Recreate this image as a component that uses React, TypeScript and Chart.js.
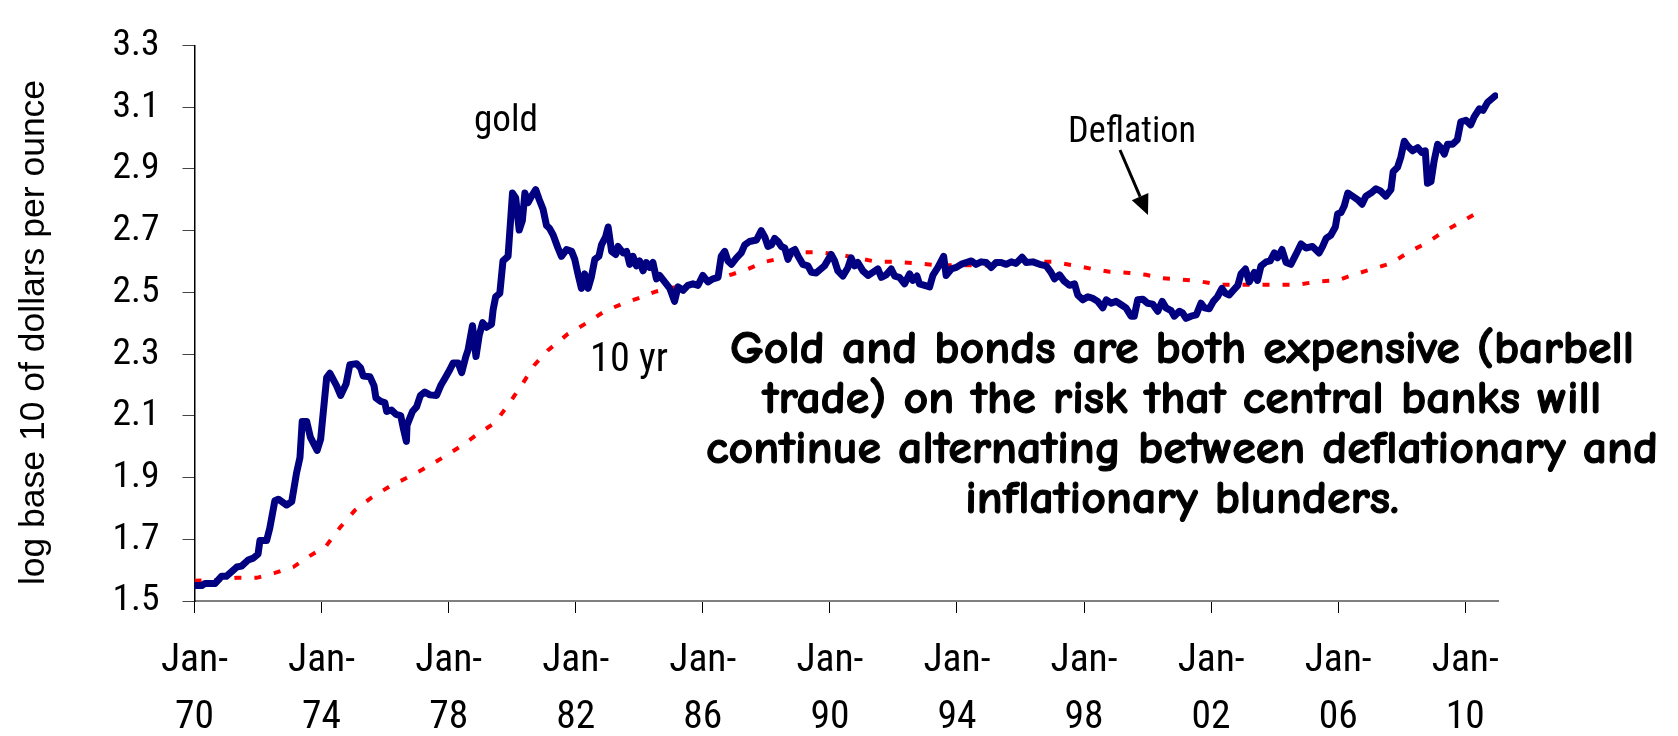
import React, { useEffect, useRef } from "react";
import { Chart, registerables } from "chart.js";

Chart.register(...registerables);

// ---- data ----
const goldYears = [
  1970.0, 1970.23, 1970.33, 1970.65, 1970.85, 1971.0, 1971.33, 1971.48, 1971.69, 1971.85,
  1972.0, 1972.06, 1972.27, 1972.37, 1972.53, 1972.64, 1972.9, 1973.06, 1973.21, 1973.32,
  1973.39, 1973.53, 1973.65, 1973.86, 1973.97, 1974.16, 1974.26, 1974.47, 1974.6, 1974.77,
  1974.89, 1975.1, 1975.23, 1975.31, 1975.52, 1975.65, 1975.71, 1975.86, 1975.99, 1976.05,
  1976.2, 1976.34, 1976.49, 1976.57, 1976.67, 1976.69, 1976.86, 1976.99, 1977.11, 1977.25,
  1977.41, 1977.62, 1977.75, 1977.88, 1978.04, 1978.14, 1978.3, 1978.41, 1978.54, 1978.61,
  1978.75, 1978.86, 1978.96, 1979.07, 1979.19, 1979.35, 1979.4, 1979.48, 1979.61, 1979.71,
  1979.87, 1980.01, 1980.11, 1980.22, 1980.32, 1980.4, 1980.5, 1980.61, 1980.74, 1980.85,
  1980.97, 1981.08, 1981.18, 1981.29, 1981.44, 1981.55, 1981.71, 1981.87, 1981.97, 1982.07,
  1982.18, 1982.28, 1982.39, 1982.49, 1982.6, 1982.73, 1982.81, 1982.94, 1983.02, 1983.13,
  1983.26, 1983.33, 1983.49, 1983.6, 1983.7, 1983.8, 1983.91, 1984.01, 1984.12, 1984.22,
  1984.33, 1984.43, 1984.54, 1984.64, 1984.8, 1984.96, 1985.11, 1985.22, 1985.38, 1985.53,
  1985.69, 1985.85, 1986.0, 1986.16, 1986.32, 1986.48, 1986.58, 1986.69, 1986.79, 1986.9,
  1987.06, 1987.21, 1987.32, 1987.47, 1987.69, 1987.84, 1987.95, 1988.05, 1988.16, 1988.26,
  1988.37, 1988.47, 1988.58, 1988.68, 1988.79, 1988.9, 1989.0, 1989.15, 1989.31, 1989.42,
  1989.57, 1989.68, 1989.83, 1990.04, 1990.15, 1990.25, 1990.41, 1990.57, 1990.67, 1990.78,
  1990.88, 1991.04, 1991.2, 1991.35, 1991.51, 1991.62, 1991.77, 1991.93, 1992.04, 1992.19,
  1992.35, 1992.51, 1992.61, 1992.74, 1992.82, 1992.98, 1993.14, 1993.24, 1993.4, 1993.58,
  1993.66, 1993.82, 1993.98, 1994.13, 1994.29, 1994.45, 1994.6, 1994.76, 1994.92, 1995.08,
  1995.23, 1995.39, 1995.55, 1995.71, 1995.86, 1996.05, 1996.18, 1996.39, 1996.6, 1996.81,
  1996.96, 1997.07, 1997.23, 1997.38, 1997.54, 1997.7, 1997.8, 1997.96, 1998.12, 1998.27,
  1998.43, 1998.59, 1998.7, 1998.85, 1999.01, 1999.17, 1999.32, 1999.48, 1999.58, 1999.69,
  1999.85, 2000.0, 2000.16, 2000.32, 2000.46, 2000.58, 2000.74, 2000.84, 2001.0, 2001.1,
  2001.21, 2001.37, 2001.53, 2001.68, 2001.79, 2001.94, 2002.07, 2002.2, 2002.34, 2002.45,
  2002.57, 2002.7, 2002.84, 2002.94, 2003.08, 2003.2, 2003.36, 2003.46, 2003.57, 2003.73,
  2003.86, 2003.99, 2004.09, 2004.23, 2004.36, 2004.51, 2004.67, 2004.83, 2004.99, 2005.19,
  2005.4, 2005.51, 2005.62, 2005.77, 2005.91, 2005.98, 2006.09, 2006.19, 2006.3, 2006.45,
  2006.61, 2006.75, 2006.87, 2007.03, 2007.19, 2007.34, 2007.5, 2007.66, 2007.73, 2007.87,
  2007.97, 2008.08, 2008.18, 2008.34, 2008.5, 2008.63, 2008.74, 2008.81, 2008.92, 2009.02,
  2009.13, 2009.23, 2009.34, 2009.44, 2009.6, 2009.75, 2009.86, 2010.02, 2010.17, 2010.28,
  2010.44, 2010.56, 2010.7, 2010.94,
];
const goldLog = [
  1.55, 1.55, 1.557, 1.557, 1.58, 1.58, 1.61, 1.613, 1.633, 1.639,
  1.652, 1.696, 1.696, 1.736, 1.825, 1.83, 1.811, 1.822, 1.914, 1.965,
  2.082, 2.082, 2.03, 1.988, 2.024, 2.224, 2.238, 2.198, 2.166, 2.203,
  2.266, 2.269, 2.255, 2.229, 2.227, 2.198, 2.158, 2.147, 2.143, 2.114,
  2.119, 2.105, 2.101, 2.061, 2.017, 2.07, 2.114, 2.129, 2.166, 2.177,
  2.168, 2.166, 2.198, 2.221, 2.25, 2.271, 2.271, 2.24, 2.292, 2.313,
  2.392, 2.292, 2.36, 2.402, 2.387, 2.397, 2.444, 2.486, 2.497, 2.602,
  2.617, 2.822, 2.806, 2.702, 2.733, 2.822, 2.791, 2.812, 2.833, 2.801,
  2.77, 2.717, 2.707, 2.686, 2.644, 2.617, 2.639, 2.633, 2.607, 2.56,
  2.513, 2.56, 2.513, 2.549, 2.607, 2.617, 2.654, 2.68, 2.712, 2.633,
  2.623, 2.649, 2.628, 2.633, 2.591, 2.617, 2.586, 2.602, 2.57, 2.597,
  2.581, 2.597, 2.544, 2.555, 2.534, 2.513, 2.471, 2.518, 2.507, 2.523,
  2.528, 2.523, 2.555, 2.534, 2.544, 2.549, 2.617, 2.633, 2.602, 2.591,
  2.612, 2.628, 2.654, 2.665, 2.67, 2.7, 2.68, 2.649, 2.654, 2.675,
  2.665, 2.649, 2.644, 2.607, 2.633, 2.639, 2.617, 2.591, 2.586, 2.565,
  2.563, 2.573, 2.586, 2.623, 2.602, 2.57, 2.553, 2.581, 2.612, 2.586,
  2.597, 2.57, 2.555, 2.565, 2.576, 2.549, 2.557, 2.576, 2.553, 2.549,
  2.528, 2.56, 2.539, 2.553, 2.528, 2.523, 2.518, 2.555, 2.581, 2.617,
  2.555, 2.576, 2.581, 2.591, 2.597, 2.602, 2.591, 2.599, 2.597, 2.581,
  2.597, 2.597, 2.591, 2.599, 2.594, 2.614, 2.597, 2.599, 2.591, 2.586,
  2.565, 2.544, 2.557, 2.536, 2.523, 2.528, 2.492, 2.476, 2.486, 2.481,
  2.471, 2.45, 2.476, 2.465, 2.471, 2.46, 2.45, 2.423, 2.423, 2.476,
  2.478, 2.465, 2.462, 2.439, 2.471, 2.45, 2.441, 2.423, 2.439, 2.434,
  2.416, 2.423, 2.427, 2.465, 2.45, 2.447, 2.471, 2.486, 2.513, 2.497,
  2.492, 2.507, 2.523, 2.56, 2.576, 2.534, 2.565, 2.539, 2.586, 2.599,
  2.602, 2.628, 2.612, 2.639, 2.597, 2.591, 2.623, 2.657, 2.644, 2.649,
  2.628, 2.649, 2.675, 2.686, 2.712, 2.754, 2.759, 2.78, 2.822, 2.812,
  2.801, 2.786, 2.812, 2.822, 2.836, 2.828, 2.812, 2.833, 2.891, 2.906,
  2.938, 2.99, 2.975, 2.959, 2.969, 2.954, 2.959, 2.854, 2.859, 2.927,
  2.98, 2.969, 2.948, 2.98, 2.98, 2.995, 3.053, 3.058, 3.043, 3.069,
  3.095, 3.09, 3.116, 3.137,
];
const bondYears = [
  1970.0, 1970.7, 1971.33, 1971.96, 1972.53, 1973.11, 1973.58, 1974.14, 1974.58, 1975.05,
  1975.57, 1976.15, 1976.78, 1977.3, 1977.88, 1978.4, 1978.93, 1979.45, 1979.87, 1980.3,
  1980.71, 1981.13, 1981.76, 1982.36, 1982.91, 1983.44, 1983.96, 1984.49, 1985.04, 1985.67,
  1986.24, 1986.9, 1987.42, 1987.95, 1988.52, 1989.1, 1989.7, 1990.36, 1990.99, 1991.48,
  1992.11, 1992.82, 1993.37, 1993.99, 1994.62, 1995.25, 1995.76, 1996.39, 1997.02, 1997.64,
  1998.27, 1998.8, 1999.43, 1999.95, 2000.48, 2001.05, 2001.63, 2002.26, 2002.89, 2003.49,
  2004.12, 2004.75, 2005.38, 2005.98, 2006.5, 2007.08, 2007.66, 2008.26, 2008.81, 2009.26,
  2009.91, 2010.52,
];
const bondLog = [
  1.566, 1.568, 1.575, 1.575, 1.591, 1.61, 1.643, 1.678, 1.738, 1.794,
  1.835, 1.872, 1.904, 1.933, 1.969, 2.003, 2.042, 2.077, 2.135, 2.2,
  2.266, 2.313, 2.366, 2.402, 2.439, 2.462, 2.481, 2.502, 2.515, 2.526,
  2.539, 2.558, 2.576, 2.599, 2.612, 2.63, 2.63, 2.621, 2.609, 2.599,
  2.599, 2.594, 2.588, 2.588, 2.588, 2.588, 2.599, 2.599, 2.599, 2.588,
  2.576, 2.567, 2.563, 2.557, 2.546, 2.542, 2.536, 2.525, 2.525, 2.525,
  2.525, 2.525, 2.536, 2.539, 2.558, 2.576, 2.594, 2.633, 2.662, 2.693,
  2.731, 2.767,
];
const xTickYears = [1970, 1974, 1978, 1982, 1986, 1990, 1994, 1998, 2002, 2006, 2010];
const xTickLabels = ["70", "74", "78", "82", "86", "90", "94", "98", "02", "06", "10"];
const yMin = 1.5;
const yMax = 3.3;
const yStep = 0.2;
const yTitle = "log base 10 of dollars per ounce";
const goldLabel = "gold";
const bondLabel = "10 yr";
const arrowLabel = "Deflation";
const noteLines = [
  "Gold and bonds are both expensive (barbell",
  "trade) on the risk that central banks will",
  "continue alternating between deflationary and",
  "inflationary blunders.",
];

const FONT = "'Liberation Sans', Arial, Helvetica, sans-serif";
const NFONT = "'Roboto Condensed', 'Liberation Sans', Arial, sans-serif";
const NOTE_FONT = "'Comic Sans MS', 'Comic Neue', 'DejaVu Sans', sans-serif";

// font size that makes `text` reach `target` px wide
function fitSize(family: string, weight: string, text: string, target: number): number {
  const c = document.createElement("canvas").getContext("2d");
  if (!c) return 34;
  c.font = `${weight} 100px ${family}`;
  const w = c.measureText(text).width;
  return w > 0 ? (100 * target) / w : 34;
}

const textPlugin = {
  id: "textPlugin",
  afterDraw(chart: any) {
    const ctx = chart.ctx as CanvasRenderingContext2D;
    ctx.save();
    ctx.fillStyle = "#000";
    ctx.strokeStyle = "#000";

    // y-axis title
    ctx.save();
    ctx.translate(43.5, 332.5);
    ctx.rotate(-Math.PI / 2);
    ctx.font = `35.5px ${FONT}`;
    ctx.textAlign = "center";
    ctx.textBaseline = "alphabetic";
    ctx.fillText(yTitle, 0, 0);
    ctx.restore();

    // series labels
    ctx.textAlign = "center";
    ctx.textBaseline = "alphabetic";
    ctx.font = `${fitSize(NFONT, "normal", goldLabel, 64).toFixed(1)}px ${NFONT}`;
    ctx.fillText(goldLabel, 506, 131);
    ctx.font = `${fitSize(NFONT, "normal", bondLabel, 78).toFixed(1)}px ${NFONT}`;
    ctx.fillText(bondLabel, 629, 371);
    ctx.font = `${fitSize(NFONT, "normal", arrowLabel, 128).toFixed(1)}px ${NFONT}`;
    ctx.fillText(arrowLabel, 1132, 142);

    // arrow
    const x1 = 1120, y1 = 150, x2 = 1148, y2 = 215;
    const ang = Math.atan2(y2 - y1, x2 - x1);
    const hl = 20, hw = 9;
    const bx = x2 - hl * Math.cos(ang), by = y2 - hl * Math.sin(ang);
    ctx.lineWidth = 3;
    ctx.beginPath();
    ctx.moveTo(x1, y1);
    ctx.lineTo(bx, by);
    ctx.stroke();
    ctx.beginPath();
    ctx.moveTo(x2, y2);
    ctx.lineTo(bx + hw * Math.sin(ang), by - hw * Math.cos(ang));
    ctx.lineTo(bx - hw * Math.sin(ang), by + hw * Math.cos(ang));
    ctx.closePath();
    ctx.fill();

    // note (bold comic-style text)
    ctx.font = `bold 46px ${NOTE_FONT}`;
    const widest = ctx.measureText(noteLines[2]).width;
    const sx = Math.max(0.8, Math.min(1.12, 952 / widest));
    const baselines = [363, 413, 463, 513];
    ctx.lineWidth = 1.1;
    ctx.lineJoin = "round";
    noteLines.forEach((line, i) => {
      ctx.save();
      ctx.translate(1182, baselines[i]);
      ctx.scale(sx, 1);
      ctx.textAlign = "center";
      ctx.fillText(line, 0, 0);
      ctx.strokeText(line, 0, 0);
      ctx.restore();
    });
    ctx.restore();
  },
};

export default function App() {
  const canvasRef = useRef<HTMLCanvasElement | null>(null);

  useEffect(() => {
    const canvas = canvasRef.current;
    if (!canvas) return;
    const xSize = Math.round(fitSize(NFONT, "normal", "Jan-", 67) * 10) / 10;
    const ySize = Math.round(fitSize(NFONT, "normal", "3.3", 47) * 10) / 10;
    const chart = new Chart(canvas, {
      type: "line",
      data: {
        datasets: [
          {
            label: "gold",
            data: goldYears.map((x, i) => ({ x, y: goldLog[i] })),
            borderColor: "#000080",
            borderWidth: 7,
            borderJoinStyle: "round",
            borderCapStyle: "round",
            pointRadius: 0,
            tension: 0,
            fill: false,
          },
          {
            label: "10 yr",
            data: bondYears.map((x, i) => ({ x, y: bondLog[i] })),
            borderColor: "#ff0000",
            borderWidth: 4,
            borderDash: [7, 13],
            borderCapStyle: "butt",
            pointRadius: 0,
            tension: 0,
            fill: false,
          },
        ],
      },
      options: {
        responsive: false,
        animation: false,
        events: [],
        layout: { padding: { top: 30, right: 180, left: 0, bottom: 0 } },
        plugins: {
          legend: { display: false },
          tooltip: { enabled: false },
          title: { display: false },
        },
        scales: {
          x: {
            type: "linear",
            min: 1970,
            max: 2011.03,
            afterFit: (scale: any) => {
              scale.height = 135;
            },
            afterBuildTicks: (scale: any) => {
              scale.ticks = xTickYears.map((v) => ({ value: v }));
            },
            ticks: {
              autoSkip: false,
              maxRotation: 0,
              minRotation: 0,
              padding: 20,
              color: "#000",
              font: { family: NFONT, size: xSize, lineHeight: 57 / xSize },
              callback: (_v: any, i: number) => ["Jan-", xTickLabels[i]],
            },
            grid: {
              drawOnChartArea: false,
              drawTicks: true,
              tickLength: 12,
              color: "#000",
              lineWidth: 1,
            },
            border: { display: true, color: "#808080", width: 2 },
          },
          y: {
            type: "linear",
            min: yMin,
            max: yMax,
            afterFit: (scale: any) => {
              scale.width = 194.5;
            },
            ticks: {
              stepSize: yStep,
              padding: 23,
              color: "#000",
              font: { family: NFONT, size: ySize },
              callback: (v: any) => Number(v).toFixed(1),
            },
            grid: {
              drawOnChartArea: false,
              drawTicks: true,
              tickLength: 12,
              color: "#444",
              lineWidth: 1,
            },
            border: { display: true, color: "#000", width: 1.5 },
          },
        },
      },
      plugins: [textPlugin],
    } as any);
    return () => chart.destroy();
  }, []);

  return (
    <div style={{ position: "fixed", left: 0, top: 0, width: 1678, height: 736, background: "#fff" }}>
      <canvas ref={canvasRef} width={1678} height={736} style={{ display: "block" }} />
    </div>
  );
}
